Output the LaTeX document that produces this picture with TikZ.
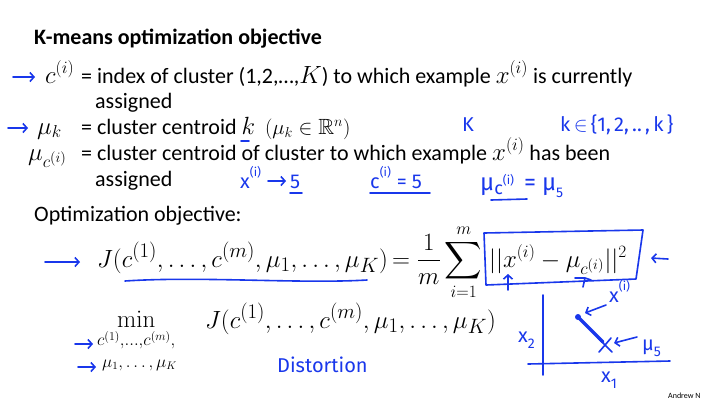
\documentclass[tikz,border=0pt]{standalone}
\usepackage{amsmath,amssymb}
\usepackage[no-math]{fontspec}
\setmainfont{Carlito}
\newfontfamily\handfont{Fira Sans}
\usetikzlibrary{positioning,arrows.meta}
\definecolor{ink}{RGB}{25,55,235}
% slide maths is set larger than the slide text
\newcommand{\mbig}[1]{{\fontsize{27}{30}\selectfont$#1$}}
% small raised / lowered bits for the handwriting
\newcommand{\hup}[1]{\raisebox{0.6em}{\fontsize{12}{12}\selectfont #1}}
\newcommand{\hdown}[1]{\raisebox{-0.3em}{\fontsize{14}{14}\selectfont #1}}

\begin{document}
\begin{tikzpicture}[x=1pt,y=-1pt,
    txt/.style={anchor=base west,inner sep=0pt,font=\fontsize{22}{26}\selectfont},
    title/.style={txt,font=\fontsize{22}{26}\selectfont\bfseries},
    eq/.style={txt,font=\fontsize{28.5}{32}\selectfont},
    hand/.style={ink,anchor=base west,inner sep=0pt,font=\handfont\fontsize{20}{24}\selectfont},
    pen/.style={ink,line width=1.6pt,line cap=round,line join=round},
    penarrow/.style={pen,-{Straight Barb[length=4pt,width=9pt]}}]
  \useasboundingbox (0,0) rectangle (708,400);

  % slide text
  \node[title] (head) at (34,44) {K-means optimization objective};
  \node[txt] (ci) at (45,83) {\mbig{c^{(i)}}};
  \node[txt] (defc) at (81,83) {= index of cluster (1,2,\ldots,\mbig{K}) to which example \mbig{x^{(i)}} is currently};
  \node[txt] (defc2) at (95,108) {assigned};
  \node[txt] (muk) at (37,134) {\mbig{\mu_k}};
  \node[txt] (defmu) at (81,134) {= cluster centroid {\fontsize{25}{28}\selectfont$k$}\ \ $(\mu_k\in\mathbb{R}^n)$};
  \node[txt] (muci) at (28,160) {\mbig{\mu_{c^{(i)}}}};
  \node[txt] (defmuc) at (81,160) {= cluster centroid of cluster to which example \mbig{x^{(i)}} has been};
  \node[txt] (defmuc2) at (95,186) {assigned};
  \node[txt] (opt) at (34,221) {Optimization objective:};

  \node[eq] (J) at (97,267) {$J(c^{(1)},\dots,c^{(m)},\mu_1,\dots,\mu_K)$};
  \node[txt,font=\fontsize{26}{29}\selectfont] (sum) at (392,267)
    {$\displaystyle=\frac{1}{m}\sum_{i=1}^{m}$};
  \node[txt,font=\fontsize{27}{30}\selectfont] (norm) at (489,267) {$||x^{(i)}-\mu_{c^{(i)}}||^2$};

  \node[txt,font=\fontsize{25}{28}\selectfont] (min) at (97,327)
    {$\displaystyle\min_{c^{(1)},\dots,c^{(m)},}$};
  \node[txt,font=\fontsize{16}{19}\selectfont] (mus) at (102,367) {$\mu_1,\dots,\mu_K$};
  \node[eq] (Jmin) at (205,328) {$J(c^{(1)},\dots,c^{(m)},\mu_1,\dots,\mu_K)$};

  \node[anchor=base west,inner sep=0pt,font=\fontsize{8}{9}\selectfont] (name) at (668,398) {Andrew N};

  % ink notes
  \draw[penarrow] (13,77) -- (35,77);
  \draw[penarrow] (8,128) -- (28,128);
  \draw[pen] (241,141) -- (249,141);
  \node[hand] (K) at (462,131) {K};
  \node[hand] (kset) at (560,131) {k\,$\in$\,\{1,\,2,\,..\,,\,k\,\}};

  \node[hand] (xi) at (240,188) {x\hup{(i)}};
  \node[hand] (five) at (290,188) {5};
  \draw[penarrow] (268,181) -- (286,181);
  \draw[pen] (290,193) -- (302,193);
  \node[hand] (ci5) at (370,188) {c\hup{(i)}\hspace{6pt}=\hspace{5pt}5};
  \draw[pen] (370,193) -- (430,193);
  \node[hand,font=\handfont\fontsize{24}{28}\selectfont] (mu5) at (480,190)
    {μ\raisebox{-0.2em}{\fontsize{18}{18}\selectfont c\hup{(i)}}\hspace{10pt}=\hspace{6pt}μ\hdown{5}};
  \draw[pen] (491,200) -- (527,199);

  \draw[penarrow] (45,262) -- (80,262);
  \draw[pen] (125,281) .. controls (200,276) and (300,284) .. (367,280);
  \draw[pen] (484,233) -- (643,230) -- (636,279) -- (486,285) -- cycle;
  \draw[penarrow] (668,259) -- (651,258);
  \draw[penarrow] (508,290) -- (508,274);
  \draw[pen] (583,287) -- (585,278) -- (591,280);
  \draw[pen] (575,278) -- (585,278);

  \draw[penarrow] (75,344) -- (93,344);
  \draw[penarrow] (78,367) -- (96,367);
  \node[hand] (dist) at (277,372) {Distortion};

  % small sketch of a point and its centroid
  \draw[pen] (543,295) -- (543,375);
  \draw[pen] (528,364) -- (670,361);
  \node[hand] (x2) at (518,342) {x\hdown{2}};
  \node[hand] (x1) at (601,382) {x\hdown{1}};
  \fill[ink] (578,317) circle (3);
  \draw[pen,line width=3.5pt] (578,317) -- (603,342);
  \draw[pen] (598,338) -- (612,352);
  \draw[pen] (599,352) -- (611,338);
  \node[hand] (xlab) at (609,302) {x\hup{(i)}};
  \draw[penarrow] (606,305) -- (585,313);
  \node[hand] (mulab) at (642,350) {μ\hdown{5}};
  \draw[penarrow] (637,337) -- (614,343);
\end{tikzpicture}
\end{document}
